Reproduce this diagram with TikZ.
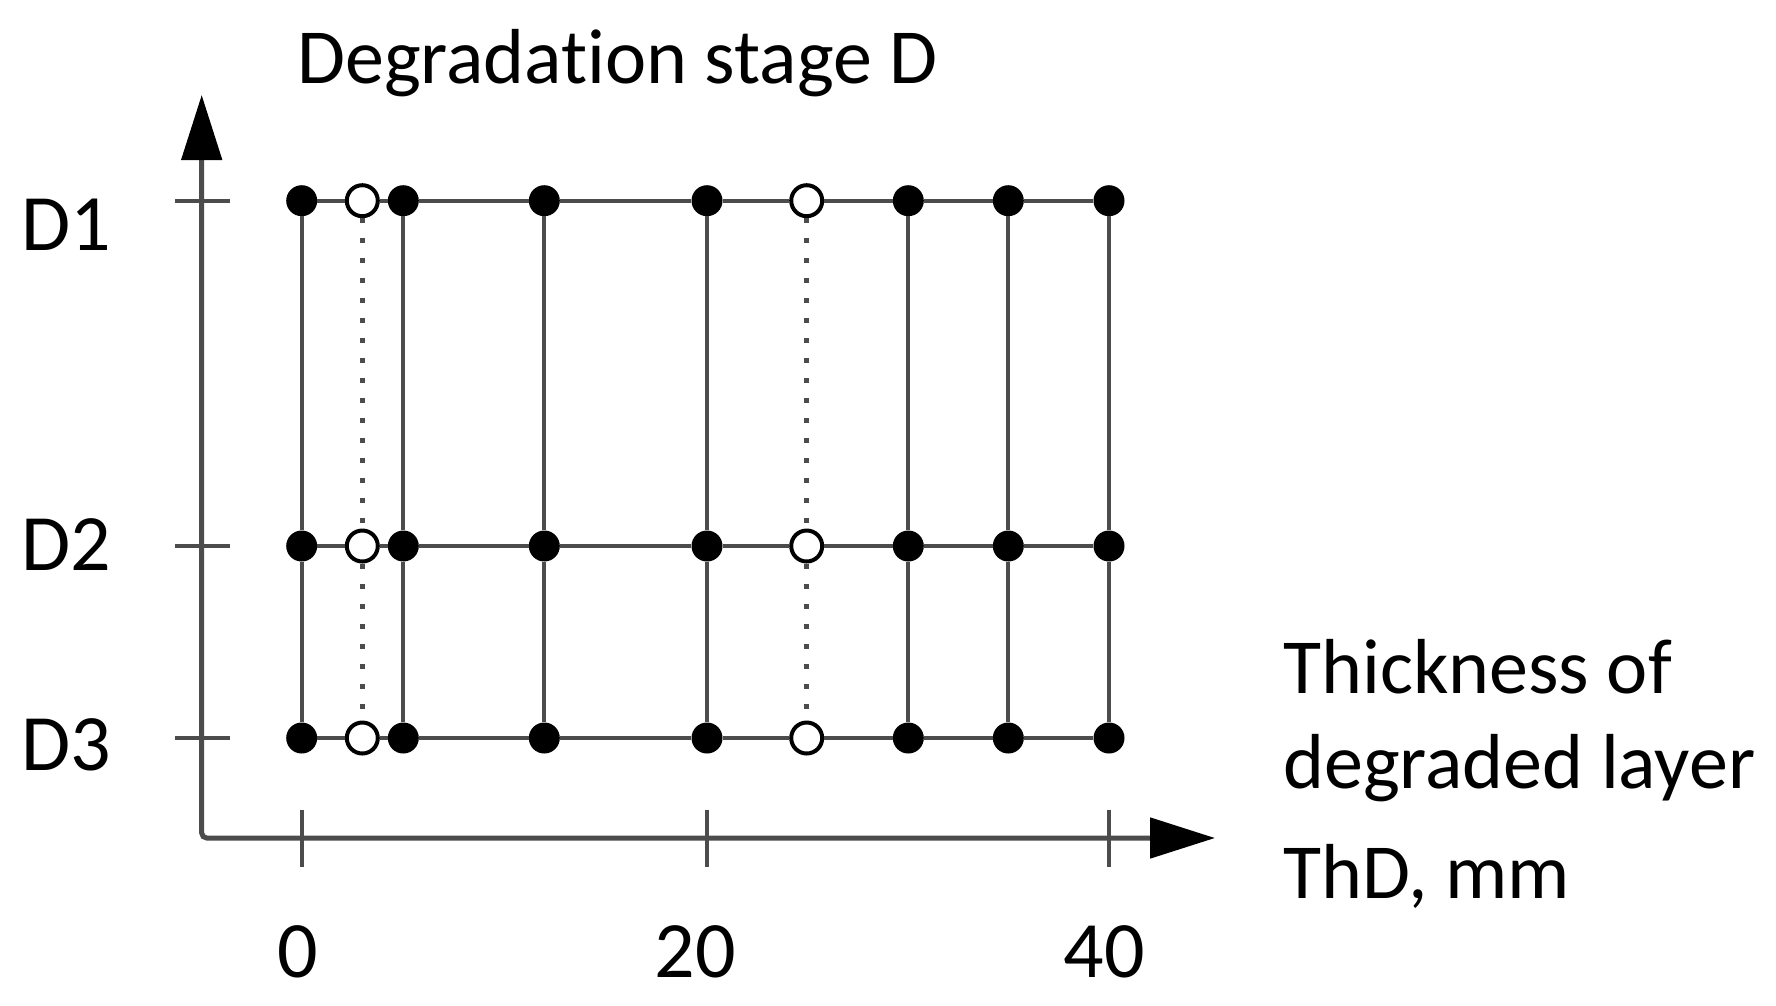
\documentclass[tikz,border=0pt]{standalone}
\usepackage{fontspec}
\setmainfont{Carlito}[Ligatures=NoCommon]
\usetikzlibrary{arrows.meta}
\begin{document}
\begin{tikzpicture}[x=1pt,y=-1pt,
  ln/.style={line width=4pt, draw=black!70},
  dotline/.style={line width=5pt, draw=black!70, dash pattern=on 5pt off 15pt},
  axisline/.style={line width=5pt, draw=black!70, rounded corners=5pt,
    arrows={Triangle[length=65pt,width=40pt,color=black]-Triangle[length=65pt,width=40pt,color=black]}},
  fdot/.style={circle, fill=black, inner sep=0pt, minimum size=31pt},
  odot/.style={circle, draw=black, fill=white, line width=4pt, inner sep=0pt, minimum size=31pt},
  lbl/.style={inner sep=0pt, font=\fontsize{78}{100}\selectfont},
  num/.style={inner sep=0pt, font=\fontsize{80}{100}\selectfont},
]
\fill[white] (0,0) rectangle (1776,1005);
\useasboundingbox (0,0) rectangle (1776,1005);

% axes
\coordinate (ytip) at (201.7,95);
\coordinate (orig) at (201.7,838);
\coordinate (xtip) at (1215,838);
\draw[axisline] (ytip) -- (orig) -- (xtip);

% y ticks
\foreach \y in {200.7,546,738} \draw[ln] (175,\y) -- (230,\y);
% x ticks
\foreach \x in {301.7,707,1109} \draw[ln] (\x,810) -- (\x,867);

% grid points
\foreach \c/\x/\s in {1/301.7/fdot, 2/362.3/odot, 3/403.3/fdot, 4/544.3/fdot, 5/707/fdot,
                      6/806.7/odot, 7/908.3/fdot, 8/1008.3/fdot, 9/1109/fdot} {
  \foreach \r/\y in {1/200.7, 2/546, 3/738} {
    \node[\s] (r\r-c\c) at (\x,\y) {};
  }
}

% horizontal lines
\foreach \r in {1,2,3} {
  \foreach \a/\b in {1/2,2/3,3/4,4/5,5/6,6/7,7/8,8/9} {
    \draw[ln] (r\r-c\a) -- (r\r-c\b);
  }
}
% vertical solid lines
\foreach \c in {1,3,4,5,7,8,9} {
  \draw[ln] (r1-c\c) -- (r2-c\c);
  \draw[ln] (r2-c\c) -- (r3-c\c);
}
% vertical dotted lines
\foreach \c in {2,6} {
  \draw[dotline] (r1-c\c) -- (r2-c\c);
  \draw[dotline] (r2-c\c) -- (r3-c\c);
}

% texts
\node[lbl, anchor=base west] (title) at (297,83) {Degradation stage D};
\node[lbl, anchor=base west] (xl1) at (1283,693) {Thickness of};
\node[lbl, anchor=base west] (xl2) at (1283,788) {degraded layer};
\node[lbl, anchor=base west] (xl3) at (1283,898) {ThD, mm};

\node[num, anchor=base west] (d1) at (21,250) {D1};
\node[num, anchor=base west] (d2) at (21,570) {D2};
\node[num, anchor=base west] (d3) at (21,770) {D3};

\node[num, anchor=base] (t0) at (298,977) {0};
\node[num, anchor=base] (t20) at (695,977) {20};
\node[num, anchor=base] (t40) at (1104,977) {40};
\end{tikzpicture}
\end{document}
